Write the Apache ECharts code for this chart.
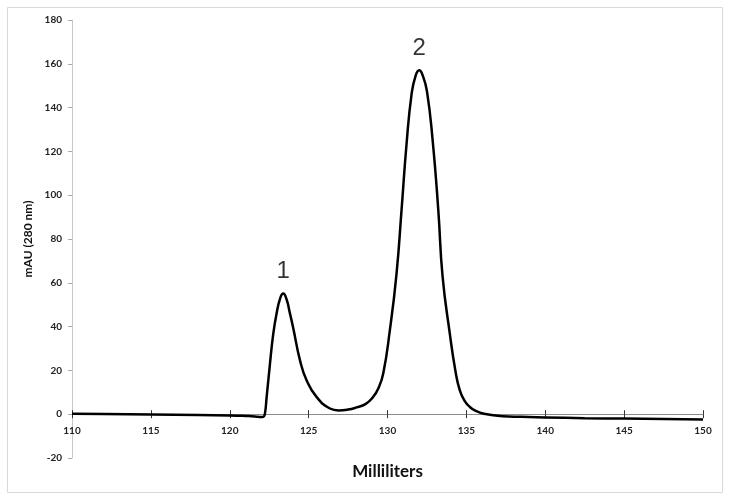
<!DOCTYPE html>
<html>
<head>
<meta charset="utf-8">
<script src="https://cdn.jsdelivr.net/npm/echarts@6/dist/echarts.min.js"></script>
<style>
  html, body { margin: 0; padding: 0; background: #fff; }
  #chart { width: 729px; height: 500px; }
</style>
</head>
<body>
<div id="chart"></div>
<script>
// elution volume (mL) and absorbance (mAU at 280 nm)
const volumes = [
  110, 112, 115, 118, 120, 121, 121.6, 122.0, 122.12, 122.22, 122.34, 122.55, 122.76, 122.97,
  123.2, 123.39, 123.6, 123.8, 124.02, 124.45, 124.87, 125.5, 126.35, 126.9, 127.5, 128.04,
  128.6, 129.09, 129.4, 129.73, 130.15, 130.57, 130.89, 131.21, 131.53, 131.78, 132.01,
  132.24, 132.5, 132.85, 133.22, 133.49, 133.95, 134.3, 134.58, 134.9, 135.22, 135.6,
  136.06, 137.3, 138.5, 140, 142.5, 145, 147.5, 150
];
const absorbance = [
  0.2, 0.1, -0.1, -0.4, -0.6, -0.8, -1.0, -1.3, -1.2, -0.2, 7.9, 23.1, 36.8, 46,
  53, 55.1, 52.5, 46.5, 39.5, 24.7, 15.5, 7.9, 2.6, 1.7, 2.1, 3.1,
  4.6, 7.9, 11.5, 18.6, 38.4, 64, 93.2, 123.6, 146.4, 154.5, 157,
  154.5, 147.5, 126, 93.2, 63, 36.8, 20, 11, 6, 3.3, 1.5,
  0.3, -0.9, -1.2, -1.5, -1.8, -2.0, -2.2, -2.4
];

const peakNames = ['1', '2'];
const peakX = [123.39, 132.01];
const peakY = [55.1, 157];

const xTicks = { min: 110, max: 150, step: 5 };
const yTicks = { min: -20, max: 180, step: 20 };

const tickFont = { fontFamily: 'Lato', fontWeight: 'bold', fontSize: 10, color: '#222' };

const gridTop = 20, gridBottom = 42, chartH = 500;
const plotH = chartH - gridTop - gridBottom;
// distance from the bottom of the plot up to y = 0
const zeroLift = (0 - yTicks.min) / (yTicks.max - yTicks.min) * plotH;

const chart = echarts.init(document.getElementById('chart'));

const xBase = {
  type: 'value',
  position: 'bottom',
  min: xTicks.min,
  max: xTicks.max,
  interval: xTicks.step,
  splitLine: { show: false },
};

chart.setOption({
  animation: false,
  backgroundColor: '#fff',
  grid: { left: 72, right: 26, top: gridTop, bottom: gridBottom, outerBoundsMode: 'none', containLabel: false },
  graphic: [{
    type: 'rect',
    shape: { x: 7.5, y: 7.5, width: 715, height: 485 },
    style: { fill: 'none', stroke: '#d9d9d9', lineWidth: 1 },
    silent: true,
  }],
  xAxis: [{
    // line on y = 0, ticks pointing down
    ...xBase,
    axisLine: { onZero: true, onZeroAxisIndex: 0, lineStyle: { color: '#8c8c8c', width: 1 } },
    axisTick: { show: true, length: 4, lineStyle: { color: '#333' } },
    axisLabel: { show: false },
  }, {
    // labels + name, lifted up to the zero line; ticks pointing up
    ...xBase,
    offset: -zeroLift,
    name: 'Milliliters',
    nameLocation: 'middle',
    nameGap: 49,
    nameTextStyle: { fontFamily: 'Lato', fontWeight: 'bold', fontSize: 17, color: '#111' },
    axisLine: { show: false, onZero: false },
    axisTick: { show: true, inside: true, length: 4, lineStyle: { color: '#333' } },
    axisLabel: { ...tickFont, margin: 12 },
  }],
  yAxis: {
    type: 'value',
    min: yTicks.min,
    max: yTicks.max,
    interval: yTicks.step,
    name: 'mAU (280 nm)',
    nameLocation: 'middle',
    nameGap: 38,
    nameTextStyle: { fontFamily: 'Lato', fontWeight: 'bold', fontSize: 12, color: '#111' },
    axisLine: { show: true, onZero: false, lineStyle: { color: '#c8c8c8', width: 1 } },
    axisTick: { show: true, length: 4, lineStyle: { color: '#aaa' } },
    axisLabel: { ...tickFont, margin: 10 },
    splitLine: { show: false },
  },
  series: [{
    type: 'line',
    xAxisIndex: 0,
    data: volumes.map((v, i) => [v, absorbance[i]]),
    smooth: 0.5,
    showSymbol: false,
    lineStyle: { color: '#000', width: 2.5 },
    z: 3,
  }, {
    type: 'scatter',
    xAxisIndex: 0,
    symbolSize: 0,
    data: peakX.map((v, i) => ({ name: peakNames[i], value: [v, peakY[i]] })),
    label: {
      show: true,
      position: 'top',
      distance: 10,
      formatter: '{b}',
      fontFamily: 'Liberation Sans',
      fontSize: 24,
      color: '#000',
    },
    silent: true,
  }],
});
</script>
</body>
</html>
